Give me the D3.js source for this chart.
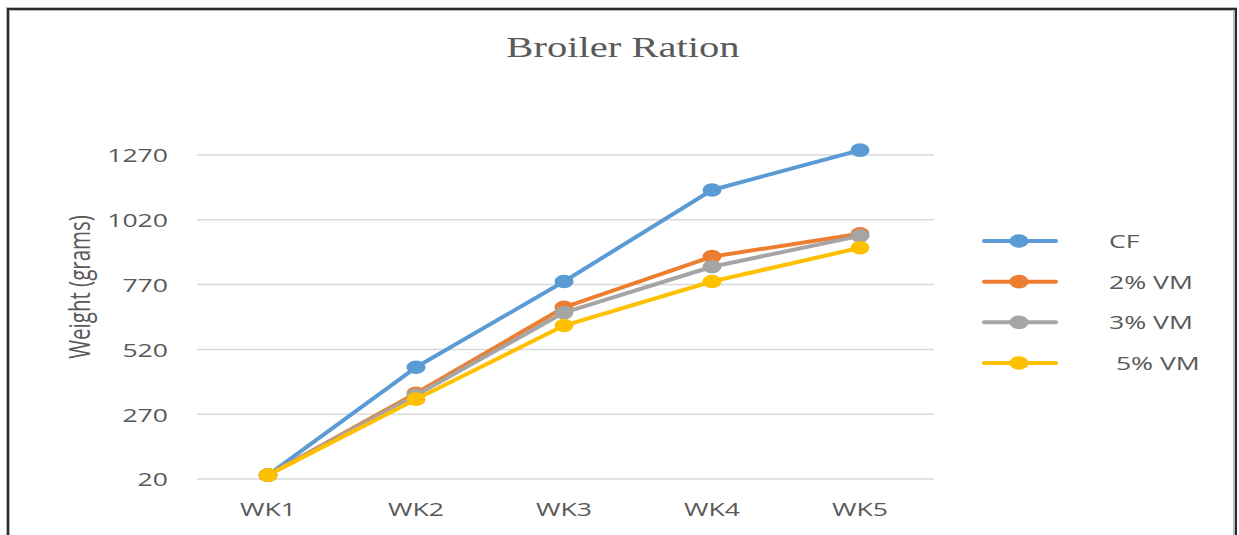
<!DOCTYPE html>
<html>
<head>
<meta charset="utf-8">
<script src="https://cdn.jsdelivr.net/npm/d3@7"></script>
<style>
  html, body { margin: 0; padding: 0; background: #fff; }
  svg { display: block; }
  text { white-space: pre; }
</style>
</head>
<body>
<svg id="chart" width="1239" height="535"></svg>
<script>
// ---- data ----
const weeks = ["WK1", "WK2", "WK3", "WK4", "WK5"];
const seriesNames = ["CF", "2% VM", "3% VM", " 5% VM"];
const cfValues = [35, 451, 782, 1135, 1289];
const vm2Values = [35, 351, 682, 878, 966];
const vm3Values = [35, 343, 662, 839, 958];
const vm5Values = [35, 328, 612, 782, 912];
const yTicks = [20, 270, 520, 770, 1020, 1270];
const colors = ["#5B9BD5", "#ED7D31", "#A5A5A5", "#FFC000"];
const titleText = "Broiler Ration";
const yTitleText = "Weight (grams)";

const series = [cfValues, vm2Values, vm3Values, vm5Values].map((v, i) => ({
  name: seriesNames[i], color: colors[i], values: v
}));

const svg = d3.select("#chart");
const SX = 1.4; // horizontal stretch of the source image
const textColor = "#595959";

// frame
svg.append("rect").attr("x", 8).attr("y", 9).attr("width", 1227).attr("height", 540)
  .attr("fill", "none").attr("stroke", "#bbb").attr("stroke-width", 4);
svg.append("rect").attr("x", 8).attr("y", 9).attr("width", 1228).attr("height", 540)
  .attr("fill", "none").attr("stroke", "#2b2b2b").attr("stroke-width", 2);

// scales
const x = d3.scaleBand().domain(weeks).range([194, 934]).padding(0);
const xc = d => x(d) + x.bandwidth() / 2;
const y = d3.scaleLinear().domain([20, 1270]).range([479, 155]);

// gridlines
svg.append("g").selectAll("line").data(yTicks).join("line")
  .attr("x1", 197).attr("x2", 934)
  .attr("y1", d => y(d)).attr("y2", d => y(d))
  .attr("stroke", "#d9d9d9").attr("stroke-width", 1.5);

// y axis
const yAxis = svg.append("g").attr("transform", "translate(194,0)")
  .call(d3.axisLeft(y).tickValues(yTicks).tickSize(0).tickFormat(d3.format("d")));
yAxis.select(".domain").remove();
yAxis.selectAll("text")
  .attr("x", 0).attr("dy", "0.36em")
  .attr("transform", `translate(-26,0) scale(${SX},1)`)
  .attr("text-anchor", "end")
  .attr("fill", textColor)
  .style("font-family", "'Open Sans', sans-serif").style("font-size", "19px");

// x axis
const xAxis = svg.append("g").attr("transform", "translate(0,479)")
  .call(d3.axisBottom(x).tickSize(0));
xAxis.select(".domain").remove();
xAxis.selectAll("text")
  .attr("y", 37).attr("dy", "0")
  .attr("transform", `scale(${SX},1)`)
  .attr("x", 0)
  .attr("fill", textColor)
  .style("font-family", "'Open Sans', sans-serif").style("font-size", "19px");

// title
svg.append("text")
  .attr("transform", `translate(623,57) scale(${SX},1)`)
  .attr("text-anchor", "middle")
  .attr("fill", textColor)
  .style("font-family", "'Liberation Serif', 'Times New Roman', serif")
  .style("font-size", "29px")
  .text(titleText);

// y axis title
svg.append("text")
  .attr("transform", `translate(80,287) scale(${SX},1) rotate(-90)`)
  .attr("text-anchor", "middle")
  .attr("dy", "0.35em")
  .attr("fill", textColor)
  .style("font-family", "'Open Sans', sans-serif")
  .style("font-size", "20.5px")
  .text(yTitleText);

// lines
const line = d3.line().x((d, i) => xc(weeks[i])).y(d => y(d));
const gS = svg.append("g");
series.forEach(s => {
  const g = gS.append("g");
  g.append("path").datum(s.values)
    .attr("d", line).attr("fill", "none")
    .attr("stroke", s.color).attr("stroke-width", 4)
    .attr("stroke-linejoin", "round").attr("stroke-linecap", "round");
  g.selectAll("ellipse").data(s.values).join("ellipse")
    .attr("cx", (d, i) => xc(weeks[i])).attr("cy", d => y(d))
    .attr("rx", 9.5).attr("ry", 6.8)
    .attr("fill", s.color);
});

// legend
const legY = d3.scalePoint().domain(seriesNames).range([241, 363]);
const leg = svg.append("g");
series.forEach(s => {
  const cy = legY(s.name);
  leg.append("line").attr("x1", 984).attr("x2", 1056).attr("y1", cy).attr("y2", cy)
    .attr("stroke", s.color).attr("stroke-width", 4).attr("stroke-linecap", "round");
  leg.append("ellipse").attr("cx", 1019).attr("cy", cy).attr("rx", 9.5).attr("ry", 6.8)
    .attr("fill", s.color);
  leg.append("text")
    .attr("transform", `translate(1109,${cy}) scale(${SX},1)`)
    .attr("dy", "0.36em")
    .attr("fill", textColor)
    .style("font-family", "'Open Sans', sans-serif").style("font-size", "19px")
    .text(s.name);
});
</script>
</body>
</html>
